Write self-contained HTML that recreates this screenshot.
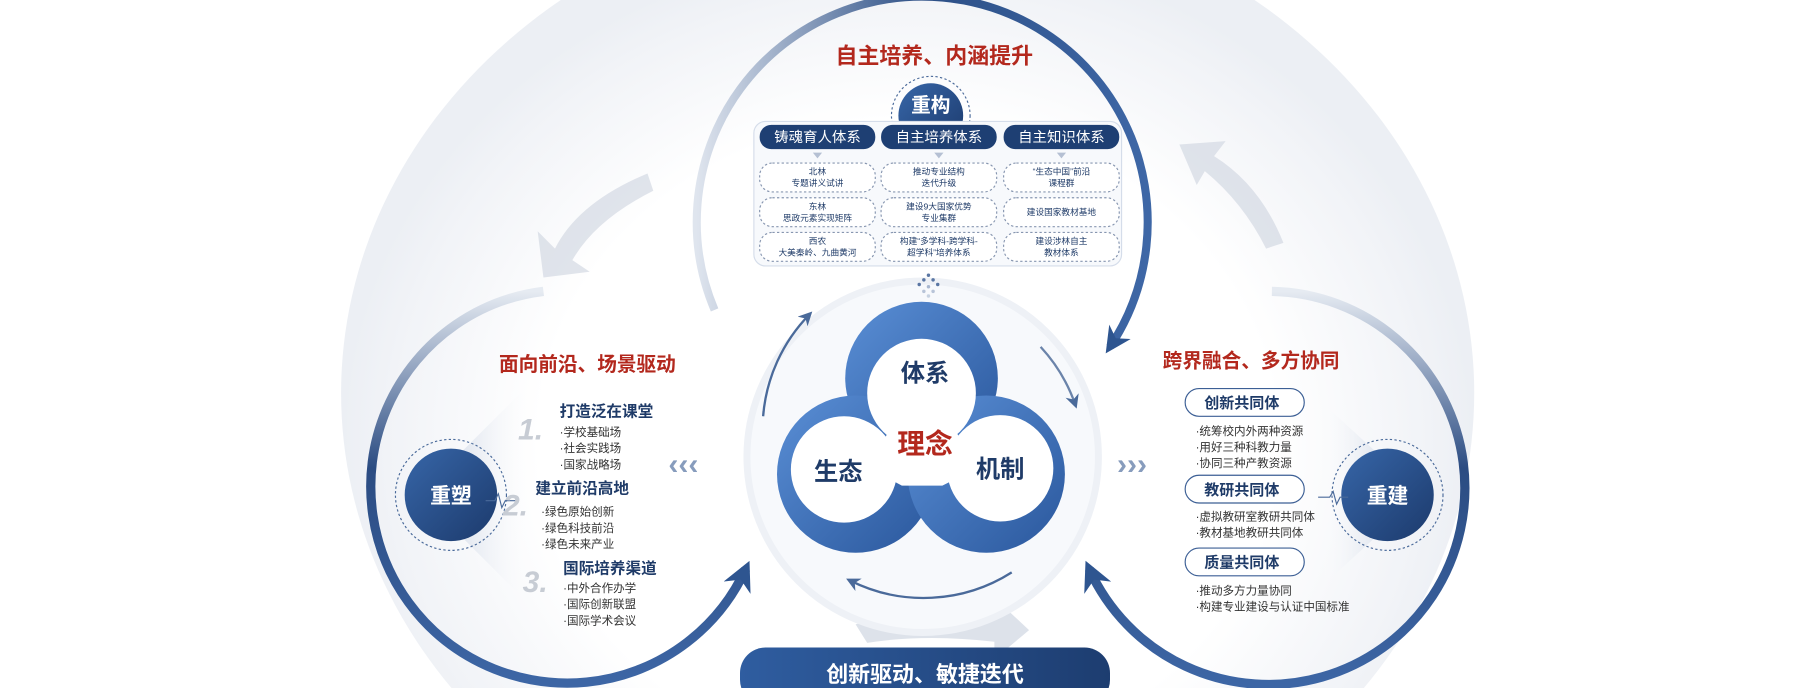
<!DOCTYPE html>
<html><head><meta charset="utf-8"><style>
html,body{margin:0;padding:0;background:#fff;width:1813px;height:688px;overflow:hidden}
svg{display:block;font-family:"Liberation Sans","Noto Sans CJK SC",sans-serif}
</style></head><body>
<svg width="1813" height="688" viewBox="0 0 1568 595" xmlns="http://www.w3.org/2000/svg">
<defs>
<radialGradient id="bg" cx="0.5" cy="0.55" r="0.5">
<stop offset="0.65" stop-color="#ffffff"/><stop offset="0.92" stop-color="#f1f3f7"/><stop offset="1" stop-color="#eceff4"/>
</radialGradient>
<linearGradient id="arcT" x1="0" y1="0" x2="1" y2="0"><stop offset="0" stop-color="#dfe5ee"/><stop offset="0.5" stop-color="#2c4f86"/><stop offset="1" stop-color="#3e67a6"/></linearGradient>
<linearGradient id="arcL" x1="0" y1="0" x2="0" y2="1"><stop offset="0" stop-color="#e6ebf2"/><stop offset="0.45" stop-color="#2b4c82"/><stop offset="1" stop-color="#3d66a5"/></linearGradient>
<linearGradient id="navy" x1="0" y1="0" x2="1" y2="1"><stop offset="0" stop-color="#3766a8"/><stop offset="1" stop-color="#1c3a6c"/></linearGradient>
<linearGradient id="ring" x1="0" y1="0" x2="1" y2="1"><stop offset="0" stop-color="#5a8fd6"/><stop offset="1" stop-color="#2a579c"/></linearGradient>
<linearGradient id="coneL" x1="1" y1="0" x2="0" y2="0"><stop offset="0" stop-color="#fff" stop-opacity="0"/><stop offset="1" stop-color="#d7deea"/></linearGradient>
<linearGradient id="coneR" x1="0" y1="0" x2="1" y2="0"><stop offset="0" stop-color="#fff" stop-opacity="0"/><stop offset="1" stop-color="#d7deea"/></linearGradient>
<linearGradient id="pill" x1="0" y1="0" x2="1" y2="0"><stop offset="0" stop-color="#2f5da0"/><stop offset="1" stop-color="#1d3d70"/></linearGradient>
<marker id="ah" viewBox="0 0 10 10" refX="7" refY="5" markerWidth="3.2" markerHeight="3.2" orient="auto"><path d="M0,0 L10,5 L0,10 L3,5 z" fill="#2e5590"/></marker>
<marker id="ah2" viewBox="0 0 10 10" refX="7" refY="5" markerWidth="6" markerHeight="6" orient="auto"><path d="M0,0 L10,5 L0,10 L3,5 z" fill="#4a6a9a"/></marker>
</defs>
<rect width="1568" height="595" fill="#fff"/>
<ellipse cx="785" cy="340" rx="490" ry="430" fill="url(#bg)"/>
<!-- light gray big arrows -->
<path d="M560 150 Q500 175 480 215 L465 200 L470 240 L510 235 L495 225 Q515 190 565 165 Z" fill="#d3d9e3" opacity="0.7"/>
<path d="M1110 210 Q1090 160 1050 135 L1060 122 L1020 125 L1035 160 L1042 148 Q1075 175 1095 215 Z" fill="#d3d9e3" opacity="0.7"/>
<path d="M740 540 Q800 520 860 528 L858 515 L890 545 L860 570 L860 555 Q800 548 750 556 Z" fill="#d5dbe5" opacity="0.8"/>
<!-- big arcs -->
<path d="M618 268 A195 195 0 1 1 960 300" fill="none" stroke="url(#arcT)" stroke-width="7" marker-end="url(#ah)"/>
<path d="M470 252 A170 170 0 1 0 645 492" fill="none" stroke="url(#arcL)" stroke-width="8" marker-end="url(#ah)"/>
<path d="M1100 252 A170 170 0 1 1 942 492" fill="none" stroke="url(#arcL)" stroke-width="8" marker-end="url(#ah)"/>
<!-- cones -->
<polygon points="390,400 460,330 460,525 390,455" fill="url(#coneL)"/>
<polygon points="1200,400 1140,345 1140,510 1200,455" fill="url(#coneR)"/>
<!-- center faint circle -->
<circle cx="798" cy="395" r="152" fill="#f7f9fc" stroke="#eef1f6" stroke-width="6"/>
<path d="M660 360 A142 142 0 0 1 700 272" fill="none" stroke="#4a6a9a" stroke-width="2" marker-end="url(#ah2)"/>
<path d="M900 300 A142 142 0 0 1 930 350" fill="none" stroke="#6b84aa" stroke-width="2" marker-end="url(#ah2)"/>
<path d="M875 495 A142 142 0 0 1 735 502" fill="none" stroke="#4a6a9a" stroke-width="2" marker-end="url(#ah2)"/>
<!-- trefoil -->
<circle cx="797" cy="327" r="66" fill="url(#ring)"/>
<circle cx="740" cy="410" r="68" fill="url(#ring)"/>
<circle cx="853" cy="410" r="68" fill="url(#ring)"/>
<circle cx="797" cy="340" r="47" fill="#fff"/>
<circle cx="730" cy="406" r="46" fill="#fff"/>
<circle cx="865" cy="405" r="46" fill="#fff"/>
<polygon points="770,370 825,370 845,405 815,420 780,420 752,405" fill="#fff"/>
<text x="800" y="330" font-size="21" fill="#1f3b68" text-anchor="middle" font-weight="bold">体系</text>
<text x="725" y="415" font-size="21" fill="#1f3b68" text-anchor="middle" font-weight="bold">生态</text>
<text x="865" y="413" font-size="21" fill="#1f3b68" text-anchor="middle" font-weight="bold">机制</text>
<text x="800" y="392" font-size="24" fill="#b3281d" text-anchor="middle" font-weight="bold">理念</text>
<!-- top title -->
<text x="808" y="55" font-size="19" fill="#b3281d" text-anchor="middle" font-weight="bold">自主培养、内涵提升</text>
<circle cx="805" cy="100" r="34" fill="none" stroke="#4a6a9a" stroke-dasharray="2,2"/>
<circle cx="805" cy="100" r="28" fill="url(#navy)"/>
<text x="805" y="97" font-size="17" fill="#fff" text-anchor="middle" font-weight="bold">重构</text>
<rect x="652" y="105" width="318" height="125" rx="10" fill="#f7f9fc" stroke="#d5ddea"/>
<g font-size="12.5" fill="#fff" text-anchor="middle">
<rect x="657" y="108" width="100" height="21" rx="10" fill="#1e3f73"/><text x="707" y="123">铸魂育人体系</text>
<rect x="762" y="108" width="100" height="21" rx="10" fill="#1e3f73"/><text x="812" y="123">自主培养体系</text>
<rect x="868" y="108" width="100" height="21" rx="10" fill="#1e3f73"/><text x="918" y="123">自主知识体系</text>
</g>
<g fill="#b5c0d3"><polygon points="703,132 711,132 707,137"/><polygon points="808,132 816,132 812,137"/><polygon points="914,132 922,132 918,137"/></g>
<g fill="#fff" stroke="#8796b0" stroke-dasharray="2,2">
<rect x="657" y="141" width="100" height="25" rx="11"/><rect x="762" y="141" width="100" height="25" rx="11"/><rect x="868" y="141" width="100" height="25" rx="11"/>
<rect x="657" y="171" width="100" height="25" rx="11"/><rect x="762" y="171" width="100" height="25" rx="11"/><rect x="868" y="171" width="100" height="25" rx="11"/>
<rect x="657" y="201" width="100" height="25" rx="11"/><rect x="762" y="201" width="100" height="25" rx="11"/><rect x="868" y="201" width="100" height="25" rx="11"/>
</g>
<g font-size="7.5" fill="#1f3b68" text-anchor="middle">
<text x="707" y="151">北林</text><text x="707" y="161">专题讲义试讲</text>
<text x="707" y="181">东林</text><text x="707" y="191">思政元素实现矩阵</text>
<text x="707" y="211">西农</text><text x="707" y="221">大美秦岭、九曲黄河</text>
<text x="812" y="151">推动专业结构</text><text x="812" y="161">迭代升级</text>
<text x="812" y="181">建设9大国家优势</text><text x="812" y="191">专业集群</text>
<text x="812" y="211">构建“多学科-跨学科-</text><text x="812" y="221">超学科”培养体系</text>
<text x="918" y="151">“生态中国”前沿</text><text x="918" y="161">课程群</text>
<text x="918" y="186">建设国家教材基地</text>
<text x="918" y="211">建设涉林自主</text><text x="918" y="221">教材体系</text>
</g>
<!-- dot arrows -->
<g fill="#5a76a3">
<circle cx="803" cy="238" r="1.5"/><circle cx="799" cy="242" r="1.5"/><circle cx="807" cy="242" r="1.5"/><circle cx="795" cy="246" r="1.5"/><circle cx="811" cy="246" r="1.5"/><circle cx="803" cy="248" r="1.5" opacity="0.5"/><circle cx="799" cy="252" r="1.5" opacity="0.4"/><circle cx="807" cy="252" r="1.5" opacity="0.4"/><circle cx="803" cy="256" r="1.5" opacity="0.3"/>
</g>
<g font-size="26" fill="#6a84ad" font-weight="bold"><text x="578" y="410" opacity="0.8">‹‹‹</text><text x="966" y="410" opacity="0.8">›››</text></g>
<!-- left -->
<text x="508" y="321" font-size="17" fill="#b3281d" text-anchor="middle" font-weight="bold">面向前沿、场景驱动</text>
<circle cx="390" cy="428" r="48" fill="none" stroke="#4a6a9a" stroke-dasharray="2,2"/>
<circle cx="390" cy="428" r="40" fill="url(#navy)"/>
<text x="390" y="435" font-size="18" fill="#fff" text-anchor="middle" font-weight="bold">重塑</text>
<path d="M420 433 L428 433 L431 427 L434 439 L437 433 L446 433" fill="none" stroke="#4a6a9a" stroke-width="1"/>
<g font-size="26" fill="#c7ccd4" font-style="italic" font-weight="bold"><text x="448" y="380">1.</text><text x="435" y="446">2.</text><text x="452" y="512">3.</text></g>
<g font-size="13.5" fill="#1f3b68" font-weight="bold"><text x="484" y="360">打造泛在课堂</text><text x="463" y="427">建立前沿高地</text><text x="487" y="496">国际培养渠道</text></g>
<g font-size="10" fill="#333"><text x="484" y="377">·学校基础场</text><text x="484" y="391">·社会实践场</text><text x="484" y="405">·国家战略场</text>
<text x="468" y="446">·绿色原始创新</text><text x="468" y="460">·绿色科技前沿</text><text x="468" y="474">·绿色未来产业</text>
<text x="487" y="512">·中外合作办学</text><text x="487" y="526">·国际创新联盟</text><text x="487" y="540">·国际学术会议</text></g>
<!-- right -->
<text x="1082" y="318" font-size="17" fill="#b3281d" text-anchor="middle" font-weight="bold">跨界融合、多方协同</text>
<g fill="#fff" stroke="#3c5f95" stroke-width="1"><rect x="1025" y="336" width="103" height="24" rx="12"/><rect x="1025" y="411" width="103" height="24" rx="12"/><rect x="1025" y="474" width="103" height="24" rx="12"/></g>
<g font-size="13" fill="#1f3b68" font-weight="bold" text-anchor="middle"><text x="1074" y="353">创新共同体</text><text x="1074" y="428">教研共同体</text><text x="1074" y="491">质量共同体</text></g>
<g font-size="10" fill="#333"><text x="1034" y="376">·统筹校内外两种资源</text><text x="1034" y="390">·用好三种科教力量</text><text x="1034" y="404">·协同三种产教资源</text>
<text x="1034" y="450">·虚拟教研室教研共同体</text><text x="1034" y="464">·教材基地教研共同体</text>
<text x="1034" y="514">·推动多方力量协同</text><text x="1034" y="528">·构建专业建设与认证中国标准</text></g>
<circle cx="1200" cy="428" r="48" fill="none" stroke="#4a6a9a" stroke-dasharray="2,2"/>
<circle cx="1200" cy="428" r="40" fill="url(#navy)"/>
<text x="1200" y="435" font-size="18" fill="#fff" text-anchor="middle" font-weight="bold">重建</text>
<path d="M1140 430 L1150 430 L1153 425 L1156 436 L1159 430 L1166 430" fill="none" stroke="#4a6a9a" stroke-width="1"/>
<!-- bottom pill -->
<rect x="640" y="560" width="320" height="50" rx="22" fill="url(#pill)"/>
<text x="800" y="590" font-size="19" fill="#fff" text-anchor="middle" font-weight="bold">创新驱动、敏捷迭代</text>
</svg>
</body></html>
